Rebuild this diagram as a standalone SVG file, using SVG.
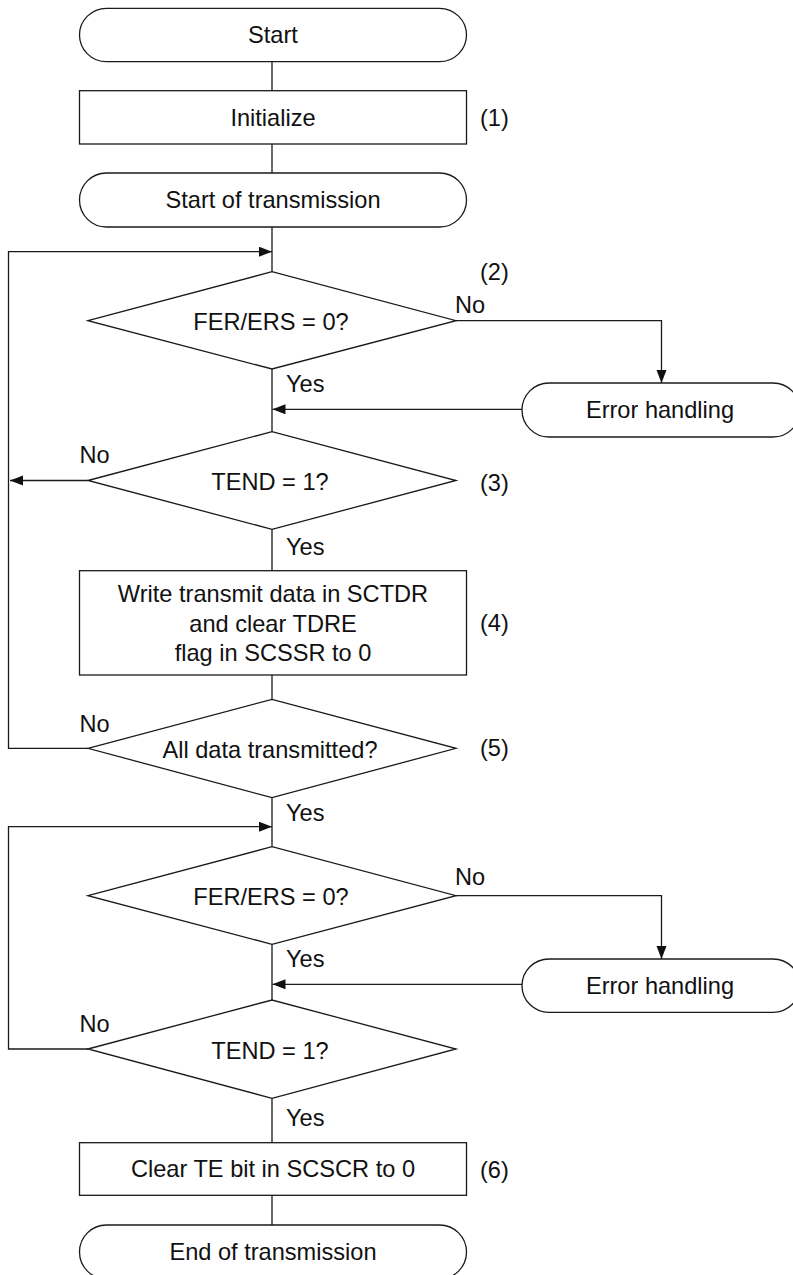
<svg xmlns="http://www.w3.org/2000/svg" width="793" height="1275" viewBox="0 0 793 1275">
<style>
.s{fill:#fff;stroke:#1a1a1a;stroke-width:1.3}
.c{fill:none;stroke:#1a1a1a;stroke-width:1.3}
text{font-family:"Liberation Sans",Arial,sans-serif;font-size:23.6px;fill:#111}
.m{text-anchor:middle}
</style>
<defs>
<marker id="ah" markerUnits="userSpaceOnUse" markerWidth="14" markerHeight="12" refX="13" refY="5" orient="auto">
<path d="M0,0 L13,5 L0,10 z" fill="#111"/>
</marker>
</defs>
<rect width="793" height="1275" fill="#fff"/>
<g id="connectors">
<path class="c" d="M272,62 V90.7"/>
<path class="c" d="M272,144 V173"/>
<path class="c" d="M272,227 V271.7"/>
<path class="c" d="M272,369 V431.7"/>
<path class="c" d="M272,529.3 V570.7"/>
<path class="c" d="M272,675 V699.3"/>
<path class="c" d="M272,797.7 V846.7"/>
<path class="c" d="M272,944.3 V1000"/>
<path class="c" d="M272,1098.3 V1142.7"/>
<path class="c" d="M272,1195.3 V1225"/>
<path class="c" d="M88,748.3 H8.5 V251.7 H272" marker-end="url(#ah)"/>
<path class="c" d="M88,480.5 H10" marker-end="url(#ah)"/>
<path class="c" d="M456,320.7 H661.5 V383" marker-end="url(#ah)"/>
<path class="c" d="M522,409.3 H272.5" marker-end="url(#ah)"/>
<path class="c" d="M88,1049 H8.5 V826.7 H272" marker-end="url(#ah)"/>
<path class="c" d="M456,895.7 H661.5 V959" marker-end="url(#ah)"/>
<path class="c" d="M522,984.3 H272.5" marker-end="url(#ah)"/>
</g>
<g id="start"><rect class="s" x="79.5" y="8.3" width="387" height="53.4" rx="27" ry="27"/><text class="m" x="273" y="43">Start</text></g>
<g id="init"><rect class="s" x="79.5" y="90.7" width="387" height="53.3"/><text class="m" x="273" y="125.5">Initialize</text><text x="480" y="126">(1)</text></g>
<g id="starttx"><rect class="s" x="79.5" y="173" width="387" height="54" rx="27" ry="27"/><text class="m" x="273" y="208">Start of transmission</text></g>
<g id="d1"><polygon class="s" points="88,320.7 272,271.7 456,320.7 272,369"/><text class="m" x="271" y="329.5">FER/ERS = 0?</text><text x="480" y="280">(2)</text><text x="455" y="313">No</text><text x="286" y="391.5">Yes</text></g>
<g id="err1"><rect class="s" x="522" y="383" width="278" height="54" rx="27" ry="27"/><text class="m" x="660" y="418">Error handling</text></g>
<g id="d2"><polygon class="s" points="88,480.5 272,431.7 456,480.5 272,529.3"/><text class="m" x="270" y="489.5">TEND = 1?</text><text x="79.5" y="463">No</text><text x="480" y="490.5">(3)</text><text x="286" y="554.5">Yes</text></g>
<g id="write"><rect class="s" x="79.5" y="570.7" width="387" height="104.3"/><text class="m" x="273" y="602">Write transmit data in SCTDR</text><text class="m" x="273" y="631.5">and clear TDRE</text><text class="m" x="273" y="660.5">flag in SCSSR to 0</text><text x="480" y="631">(4)</text></g>
<g id="d5"><polygon class="s" points="88,748.3 272,699.3 456,748.3 272,797.7"/><text class="m" x="270" y="757.5">All data transmitted?</text><text x="79.5" y="731.5">No</text><text x="480" y="756">(5)</text><text x="286" y="820.5">Yes</text></g>
<g id="d6"><polygon class="s" points="88,895.7 272,846.7 456,895.7 272,944.3"/><text class="m" x="271" y="904.5">FER/ERS = 0?</text><text x="455" y="885">No</text><text x="286" y="967">Yes</text></g>
<g id="err2"><rect class="s" x="522" y="959" width="278" height="53.3" rx="27" ry="27"/><text class="m" x="660" y="994">Error handling</text></g>
<g id="d7"><polygon class="s" points="88,1049 272,1000 456,1049 272,1098.3"/><text class="m" x="270" y="1058.5">TEND = 1?</text><text x="79.5" y="1032">No</text><text x="286" y="1126">Yes</text></g>
<g id="clear"><rect class="s" x="79.5" y="1142.7" width="387" height="52.6"/><text class="m" x="273" y="1176.5">Clear TE bit in SCSCR to 0</text><text x="480" y="1178">(6)</text></g>
<g id="end"><rect class="s" x="79.5" y="1225" width="387" height="54" rx="27" ry="27"/><text class="m" x="273" y="1260">End of transmission</text></g>
</svg>
